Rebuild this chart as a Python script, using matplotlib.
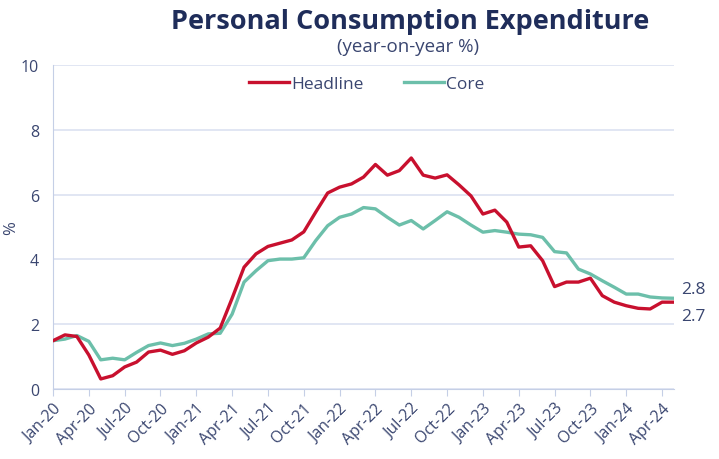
import matplotlib.pyplot as plt
import pandas as pd

# Дані (рік до року, %)
months = pd.date_range('2020-01-01', '2024-05-01', freq='MS')

headline = [1.49, 1.67, 1.62, 1.05, 0.31, 0.41, 0.68, 0.83, 1.14, 1.20, 1.07, 1.18,
            1.42, 1.60, 1.88, 2.80, 3.76, 4.17, 4.40, 4.50, 4.60, 4.85, 5.46, 6.05,
            6.23, 6.33, 6.54, 6.93, 6.60, 6.74, 7.13, 6.60, 6.51, 6.61, 6.30, 5.96,
            5.40, 5.52, 5.15, 4.38, 4.42, 3.96, 3.16, 3.30, 3.30, 3.42, 2.88, 2.68,
            2.57, 2.49, 2.47, 2.68, 2.68]

core = [1.49, 1.54, 1.65, 1.47, 0.90, 0.95, 0.90, 1.13, 1.34, 1.42, 1.34, 1.41,
        1.54, 1.70, 1.72, 2.31, 3.30, 3.65, 3.96, 4.01, 4.01, 4.05, 4.58, 5.04,
        5.30, 5.40, 5.60, 5.56, 5.30, 5.06, 5.20, 4.94, 5.20, 5.47, 5.30, 5.06,
        4.84, 4.89, 4.84, 4.78, 4.76, 4.68, 4.24, 4.20, 3.70, 3.55, 3.34, 3.14,
        2.93, 2.93, 2.84, 2.81, 2.80]

series_names = ['Headline', 'Core']
last_labels = ['2.7', '2.8']

RED = '#c8102e'
TEAL = '#6cbfaa'
NAVY = '#1f2d5a'
TEXT = '#3a4670'
GRID = '#dbe1f1'


def plot_data():
    plt.rcParams['font.family'] = ['Open Sans', 'DejaVu Sans']
    fig = plt.figure(figsize=(7.19, 4.6), dpi=100)
    ax = fig.add_axes([0.0737, 0.1522, 0.8637, 0.7043])

    x = list(range(len(months)))
    ax.plot(x, headline, color=RED, lw=2.4, label=series_names[0], solid_joinstyle='round', zorder=3)
    ax.plot(x, core, color=TEAL, lw=2.4, label=series_names[1], solid_joinstyle='round', zorder=2)

    ax.set_xlim(0, len(months) - 1)
    ax.set_ylim(0, 10)
    ax.set_yticks(range(0, 11, 2))
    ax.yaxis.grid(True, color=GRID, lw=1.2)
    ax.set_axisbelow(True)

    ticks = x[::3]
    ax.set_xticks(ticks)
    ax.set_xticklabels([months[i].strftime('%b-%y') for i in ticks],
                       rotation=45, ha='right', rotation_mode='anchor')

    for s in ['top', 'right']:
        ax.spines[s].set_visible(False)
    ax.spines['left'].set_color('#c5cfe6')
    ax.spines['bottom'].set_color('#c5cfe6')
    ax.tick_params(axis='x', colors='#c5cfe6', labelcolor=TEXT, labelsize=11.5, length=5, pad=3)
    ax.tick_params(axis='y', length=0, labelcolor=TEXT, labelsize=11.5, pad=10)

    fig.text(0.016, 0.505, '%', rotation=90, ha='center', va='center', color=TEXT, fontsize=12)

    # Підписи останніх значень
    ax.annotate(last_labels[1], xy=(x[-1], core[-1]), xytext=(5, 7), textcoords='offset points',
                color=TEXT, fontsize=12.5, va='center', annotation_clip=False)
    ax.annotate(last_labels[0], xy=(x[-1], headline[-1]), xytext=(5, -10), textcoords='offset points',
                color=TEXT, fontsize=12.5, va='center', annotation_clip=False)

    ax.legend(loc='upper center', bbox_to_anchor=(0.505, 1.015), ncol=2, frameon=False,
              fontsize=12.5, handlelength=2.3, handletextpad=0.15, columnspacing=2.3,
              labelcolor=TEXT)

    fig.text(0.570, 0.952, 'Personal Consumption Expenditure', ha='center', va='center',
             fontsize=19.5, fontweight='bold', color=NAVY)
    fig.text(0.568, 0.898, '(year-on-year %)', ha='center', va='center',
             fontsize=13.5, color=TEXT)

    fig.savefig('out.png', dpi=100)


def main():
    plot_data()


if __name__ == "__main__":
    main()
